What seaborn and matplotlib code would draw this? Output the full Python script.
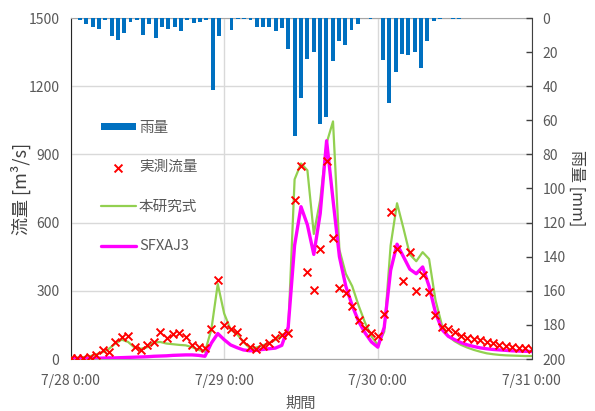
import matplotlib
matplotlib.use("Agg")
import matplotlib.pyplot as plt
from matplotlib.ticker import MultipleLocator, FixedLocator
from matplotlib.collections import PathCollection
import pandas as pd
import seaborn as sns

# Hourly record, 7/28 0:00 - 7/31 0:00
hours = list(range(73))

rain_mm = [0, 1.3, 3.3, 5.3, 6.6, 1, 10.7, 12.7, 8.8, 2.3,
           1, 10, 3.3, 12, 5.3, 6.6, 5.3, 7.6, 1.3, 3,
           2.3, 1, 42, 10.7, 0, 7, 0.5, 0.5, 1.3, 5.3,
           5.3, 5.3, 7.6, 5.7, 18.4, 69.4, 47, 24, 20, 62,
           58, 25.5, 13.3, 15.7, 7, 3.6, 0, 0.5, 0, 24.5,
           49.6, 31.5, 21, 21.6, 20.2, 29.6, 13.7, 2, 0.5, 0,
           0.5, 0.5, 0, 0, 0, 0, 0, 0, 0, 0,
           0, 0, 0]

observed = [3, 3, 3, 7.5, 18, 40, 32, 73, 95, 101,
            54, 40, 62, 76, 120, 91, 108, 113, 95, 62,
            54, 47, 130, 348, 150, 131, 120, 79, 54, 43,
            57, 69, 91, 106, 116, 700, 850, 381, 304, 484,
            872, 534, 311, 289, 235, 172, 138, 113, 103, 197,
            645, 484, 343, 469, 299, 370, 293, 194, 142, 131,
            117, 103, 94, 88, 84, 76, 69, 63, 58, 54,
            50, 47, 45]

proposed = [5, 5, 8, 12, 20, 30, 45, 68, 85, 75,
            50, 45, 52, 72, 75, 68, 65, 62, 60, 52,
            40, 32, 130, 330, 200, 130, 110, 75, 48, 50,
            60, 70, 85, 105, 120, 790, 860, 830, 550, 700,
            950, 1045, 480, 375, 320, 235, 160, 100, 62, 120,
            500, 685, 575, 460, 430, 470, 440, 260, 150, 100,
            78, 62, 50, 40, 32, 25, 21, 18, 16, 15,
            14, 13, 13]

sfxaj3 = [2, 2, 2, 3, 3, 4, 5, 5, 6, 7,
          8, 9, 10, 12, 13, 14, 16, 17, 18, 18,
          16, 12, 70, 112, 85, 62, 50, 40, 36, 38,
          42, 45, 48, 60, 140, 500, 670, 590, 460, 640,
          960, 700, 450, 320, 235, 165, 115, 75, 52, 140,
          390, 505, 450, 395, 375, 405, 320, 205, 130, 100,
          85, 72, 62, 55, 49, 45, 42, 40, 38, 36,
          35, 34, 33]

day_ticks = [0, 24, 48, 72]
day_labels = ["7/28 0:00", "7/29 0:00", "7/30 0:00", "7/31 0:00"]

sns.set_style("white")
plt.rcParams["font.family"] = ["Noto Sans CJK JP", "DejaVu Sans"]

TXT = "#595959"
df = pd.DataFrame({"hour": hours, "rain": rain_mm, "observed": observed,
                   "proposed": proposed, "sfxaj3": sfxaj3})

fig = plt.figure(figsize=(5.95, 4.11), dpi=100)
rect = [70.5 / 595, (411 - 359) / 411, 461 / 595, 341 / 411]
ax = fig.add_axes(rect)
ax2 = fig.add_axes(rect)
ax2.patch.set_visible(False)

# discharge on the left axis
sns.lineplot(data=df, x="hour", y="proposed", ax=ax, color="#92D050",
             linewidth=1.6, errorbar=None, legend=False, zorder=3)
sns.lineplot(data=df, x="hour", y="sfxaj3", ax=ax, color="#FF00FF",
             linewidth=2.4, errorbar=None, legend=False, zorder=3)
sns.scatterplot(data=df, x="hour", y="observed", ax=ax, marker="x",
                color="#FF0000", s=32, linewidth=1.4, legend=False, zorder=4)

ax.set_xlim(0, 72)
ax.set_ylim(0, 1500)
ax.yaxis.set_major_locator(MultipleLocator(300))
ax.xaxis.set_major_locator(FixedLocator(day_ticks))
ax.set_xticklabels(day_labels)
ax.xaxis.set_minor_locator(MultipleLocator(4.8))
ax.grid(True, which="major", color="#D9D9D9", linewidth=1)
ax.set_axisbelow(True)
ax.tick_params(axis="y", direction="in", length=4, width=1, color="#262626",
               labelsize=10, labelcolor=TXT, pad=8)
ax.tick_params(axis="x", which="both", direction="in", length=4, width=1,
               color="#A6A6A6", labelsize=10, labelcolor=TXT, pad=11)
for side in ["top", "bottom"]:
    ax.spines[side].set_color("#A6A6A6")
ax.spines["left"].set_color("#262626")
ax.spines["right"].set_visible(False)
ax.set_xlabel("期間", fontsize=11, color=TXT, labelpad=5)
ax.set_ylabel("流量 [m³/s]", fontsize=13, color="#404040", labelpad=-2)

# rainfall hyetograph hanging from the top, right axis
sns.barplot(data=df, x="hour", y="rain", ax=ax2, color="#0070C0",
            saturation=1, width=0.62, errorbar=None, linewidth=0, zorder=2)
ax2.set_xlim(-0.5, 72.5)
ax2.set_ylim(200, 0)
ax2.yaxis.set_major_locator(MultipleLocator(20))
ax2.yaxis.tick_right()
ax2.yaxis.set_label_position("right")
ax2.set_xticks([])
ax2.set_xlabel("")
ax2.tick_params(axis="y", direction="in", length=4, width=1, color="#404040",
                labelsize=10, labelcolor=TXT, pad=8)
for side in ["left", "top", "bottom"]:
    ax2.spines[side].set_visible(False)
ax2.spines["right"].set_color("#404040")
ax2.set_ylabel("雨量 [mm]", fontsize=11.5, color="#404040", rotation=270,
               va="bottom", labelpad=2)

bar_handle = ax2.patches[0]
scatter_handle = [c for c in ax.collections if isinstance(c, PathCollection)][0]
handles = [bar_handle, scatter_handle, ax.lines[0], ax.lines[1]]
labels = ["雨量", "実測流量", "本研究式", "SFXAJ3"]
leg = ax2.legend(handles, labels, loc="upper left",
                 bbox_to_anchor=(0.066, 0.699), frameon=False, fontsize=10.5,
                 labelcolor=TXT, handlelength=2.4, handleheight=0.45,
                 handletextpad=0.2, labelspacing=1.75, borderpad=0,
                 borderaxespad=0)

fig.savefig("out.png", dpi=100)
